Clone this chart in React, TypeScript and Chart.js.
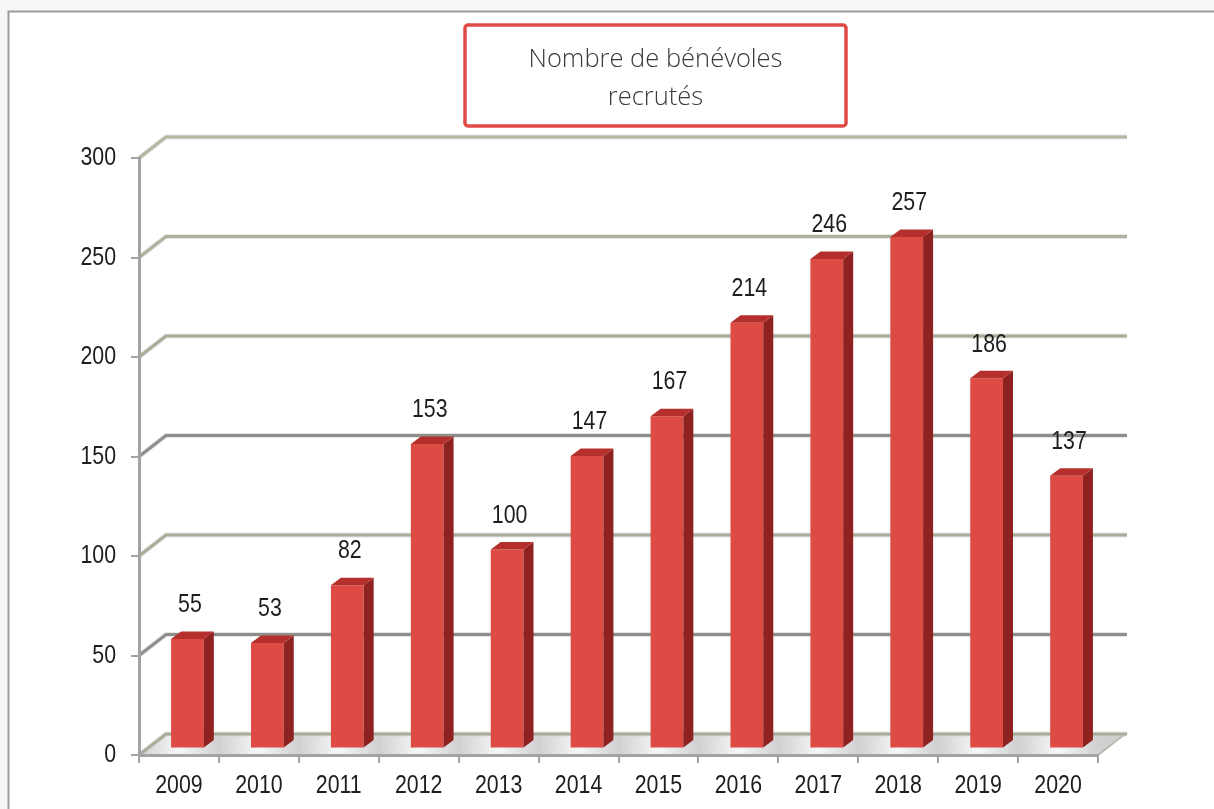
import React, { useEffect, useRef } from "react";
import { Chart, registerables } from "chart.js";

Chart.register(...registerables);

const years = ["2009", "2010", "2011", "2012", "2013", "2014", "2015", "2016", "2017", "2018", "2019", "2020"];
const volunteers = [55, 53, 82, 153, 100, 147, 167, 214, 246, 257, 186, 137];
const titleLines = ["Nombre de bénévoles", "recrutés"];
const yTicksMin = 0;
const yTicksMax = 300;
const yTickStep = 50;

const W = 1214;
const H = 809;
const DEPTH_X = 27;
const DEPTH_Y = -21;
const BAR_SHIFT_X = 8.5;
const BAR_SHIFT_Y = -6.5;
const BAR_DEPTH_X = 10;
const BAR_DEPTH_Y = -7.5;
const NUM_FONT = '26px "Liberation Sans", Arial, sans-serif';
const NARROW = 0.82;
const TEXT_COLOR = "#1e1e1e";

function narrowText(ctx: CanvasRenderingContext2D, text: string, x: number, y: number, align: CanvasTextAlign) {
  ctx.save();
  ctx.translate(x, y);
  ctx.scale(NARROW, 1);
  ctx.font = NUM_FONT;
  ctx.fillStyle = TEXT_COLOR;
  ctx.textAlign = align;
  ctx.textBaseline = "middle";
  ctx.fillText(text, 0, 0);
  ctx.restore();
}

const decorPlugin = {
  id: "decor3d",
  beforeDraw(chart: any) {
    const ctx = chart.ctx as CanvasRenderingContext2D;
    const area = chart.chartArea;
    const y = chart.scales.y;
    ctx.save();
    // page background and frame
    ctx.fillStyle = "#f6f6f6";
    ctx.fillRect(0, 0, W, H);
    ctx.fillStyle = "#ffffff";
    ctx.fillRect(9, 12, W, H);
    ctx.strokeStyle = "#9c9c9c";
    ctx.lineWidth = 2;
    ctx.beginPath();
    ctx.moveTo(8.5, H);
    ctx.lineTo(8.5, 11.5);
    ctx.lineTo(W, 11.5);
    ctx.stroke();

    // floor
    const fl = area.left, fr = area.right, fb = area.bottom;
    ctx.beginPath();
    ctx.moveTo(fl, fb);
    ctx.lineTo(fr, fb);
    ctx.lineTo(fr + DEPTH_X, fb + DEPTH_Y);
    ctx.lineTo(fl + DEPTH_X, fb + DEPTH_Y);
    ctx.closePath();
    const g2 = ctx.createLinearGradient(fl, 0, fr, 0);
    for (let i = 0; i <= 24; i++) {
      g2.addColorStop(i / 24, i % 2 === 0 ? "#d0d0d0" : "#f7f7f7");
    }
    ctx.fillStyle = g2;
    ctx.fill();
    ctx.strokeStyle = "#b9bbb0";
    ctx.lineWidth = 2;
    ctx.stroke();

    // back wall gridlines and connectors
    const colors = ["#a9ac98", "#8e8f8a", "#a9ac98", "#8e8f8a", "#a9ac98", "#aeb19c", "#b3b6a0"];
    const ticks = y.ticks;
    ticks.forEach((t: any, i: number) => {
      const py = y.getPixelForValue(t.value);
      const endX = area.right + DEPTH_X + 2;
      ctx.lineCap = "butt";
      ctx.strokeStyle = "rgba(205,205,205,0.5)";
      ctx.lineWidth = 5;
      ctx.beginPath();
      ctx.moveTo(area.left, py);
      ctx.lineTo(area.left + DEPTH_X, py + DEPTH_Y);
      ctx.lineTo(endX, py + DEPTH_Y);
      ctx.stroke();
      ctx.strokeStyle = colors[i % colors.length];
      ctx.lineWidth = 3;
      ctx.beginPath();
      ctx.moveTo(area.left, py);
      ctx.lineTo(area.left + DEPTH_X, py + DEPTH_Y);
      ctx.lineTo(endX, py + DEPTH_Y);
      ctx.stroke();
    });
    ctx.restore();
  },
  beforeDatasetsDraw(chart: any) {
    const ctx = chart.ctx as CanvasRenderingContext2D;
    ctx.save();
    ctx.translate(BAR_SHIFT_X, BAR_SHIFT_Y);
  },
  afterDatasetsDraw(chart: any) {
    const ctx = chart.ctx as CanvasRenderingContext2D;
    const meta = chart.getDatasetMeta(0);
    meta.data.forEach((bar: any) => {
      const { x, y, base, width } = bar.getProps(["x", "y", "base", "width"], true);
      const l = x - width / 2;
      const r = x + width / 2;
      ctx.beginPath();
      ctx.moveTo(r, y);
      ctx.lineTo(r + BAR_DEPTH_X, y + BAR_DEPTH_Y);
      ctx.lineTo(r + BAR_DEPTH_X, base + BAR_DEPTH_Y);
      ctx.lineTo(r, base);
      ctx.closePath();
      ctx.fillStyle = "#8d2220";
      ctx.fill();
      ctx.beginPath();
      ctx.moveTo(l, y);
      ctx.lineTo(l + BAR_DEPTH_X, y + BAR_DEPTH_Y);
      ctx.lineTo(r + BAR_DEPTH_X, y + BAR_DEPTH_Y);
      ctx.lineTo(r, y);
      ctx.closePath();
      ctx.fillStyle = "#b52f2c";
      ctx.fill();
    });
    ctx.restore();

    const xs = chart.scales.x;
    meta.data.forEach((bar: any, i: number) => {
      const { y } = bar.getProps(["y"], true);
      const cx = xs.getPixelForValue(i) + 11;
      narrowText(ctx, String(volunteers[i]), cx, y + BAR_SHIFT_Y - 34, "center");
    });
  },
  afterDraw(chart: any) {
    const ctx = chart.ctx as CanvasRenderingContext2D;
    const xs = chart.scales.x;
    const ys = chart.scales.y;
    // axis tick labels (condensed)
    ys.ticks.forEach((t: any, i: number) => {
      const py = ys.getPixelForTick(i);
      narrowText(ctx, String(t.value), chart.chartArea.left - 8 - 15, py, "right");
    });
    xs.ticks.forEach((_t: any, i: number) => {
      const px = xs.getPixelForTick(i);
      narrowText(ctx, String(years[i]), px, chart.chartArea.bottom + 31, "center");
    });

    ctx.save();
    const bx = 465, by = 25, bw = 381, bh = 101;
    ctx.fillStyle = "#ffffff";
    ctx.strokeStyle = "#df4a47";
    ctx.lineWidth = 3.5;
    ctx.beginPath();
    (ctx as any).roundRect(bx, by, bw, bh, 3);
    ctx.fill();
    ctx.stroke();
    ctx.fillStyle = "#3a3a3a";
    ctx.font = '300 25.5px "Open Sans", "Lato", sans-serif';
    ctx.textAlign = "center";
    ctx.textBaseline = "middle";
    ctx.fillText(titleLines[0], bx + bw / 2, 60);
    ctx.fillText(titleLines[1], bx + bw / 2, 98);
    ctx.restore();
  },
};

export default function App() {
  const ref = useRef<HTMLCanvasElement | null>(null);
  useEffect(() => {
    if (!ref.current) return;
    const chart = new Chart(ref.current, {
      type: "bar",
      data: {
        labels: years,
        datasets: [
          {
            data: volunteers,
            backgroundColor: "#de4b45",
            borderWidth: 0,
            barPercentage: 0.41,
            categoryPercentage: 1,
          },
        ],
      },
      options: {
        animation: false,
        responsive: false,
        maintainAspectRatio: false,
        layout: { padding: { left: 0, top: 158, right: 116, bottom: 0 } },
        plugins: {
          legend: { display: false },
          tooltip: { enabled: false },
          title: { display: false },
        },
        scales: {
          x: {
            grid: {
              display: true,
              drawOnChartArea: false,
              drawTicks: true,
              tickLength: 8,
              color: "#a3a3a3",
              lineWidth: 2,
              offset: true,
            },
            border: { display: true, color: "#a3a3a3", width: 3 },
            ticks: { display: false },
            afterFit(scale: any) {
              scale.height = 54;
            },
          },
          y: {
            min: yTicksMin,
            max: yTicksMax,
            grid: {
              display: true,
              drawOnChartArea: false,
              drawTicks: true,
              tickLength: 8,
              color: "#a3a3a3",
              lineWidth: 2,
            },
            border: { display: true, color: "#a3a3a3", width: 3 },
            ticks: { stepSize: yTickStep, display: false },
            afterFit(scale: any) {
              scale.width = 139;
            },
          },
        },
      },
      plugins: [decorPlugin],
    });
    return () => chart.destroy();
  }, []);
  return (
    <div style={{ position: "fixed", left: 0, top: 0, width: W, height: H, background: "#f6f6f6" }}>
      <canvas ref={ref} width={W} height={H} style={{ display: "block", width: W, height: H }} />
    </div>
  );
}
